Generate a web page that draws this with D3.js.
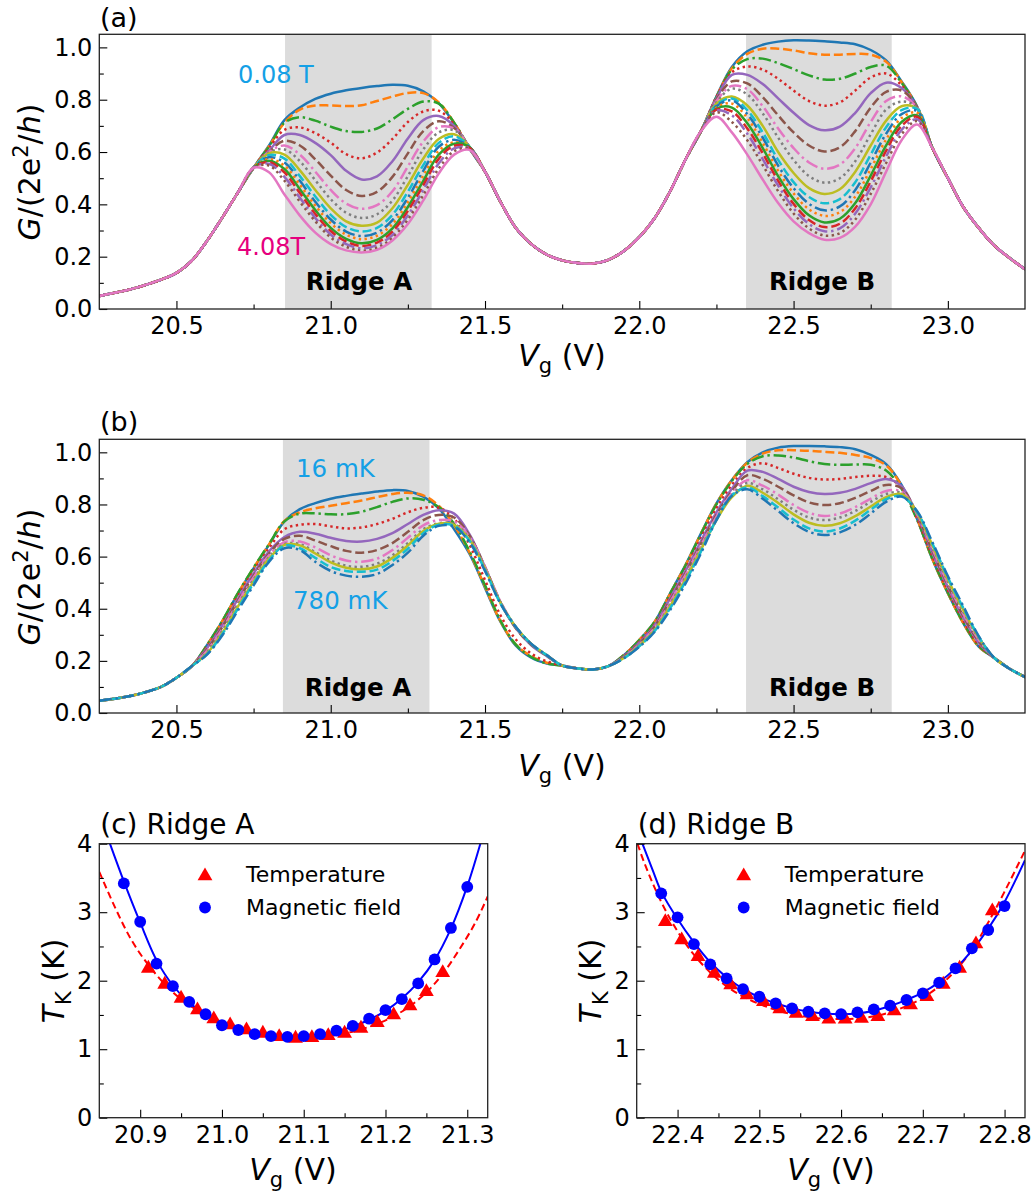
<!DOCTYPE html>
<html><head><meta charset="utf-8">
<script src="https://cdn.jsdelivr.net/npm/d3@7"></script>
<style>body{margin:0;background:#fff}svg{display:block}text{font-family:"DejaVu Sans",sans-serif}</style>
</head><body><svg id="c" width="1036" height="1196"></svg>
<script>
// ---------------- DATA ----------------
// Panel (a): field dependence (0.08 T ... 4.08 T, 17 curves)
const fieldLabels = ["0.08 T","0.33 T","0.58 T","0.83 T","1.08 T","1.33 T","1.58 T","1.83 T","2.08 T","2.33 T","2.58 T","2.83 T","3.08 T","3.33 T","3.58 T","3.83 T","4.08 T"];
const vgTailLeftA = [20.25,20.30,20.35,20.40,20.45,20.50,20.55,20.60,20.65,20.70];
const gTailLeftA  = [0.05,0.062,0.075,0.092,0.112,0.138,0.185,0.262,0.352,0.447];
const vgRidgeA_a = [20.75,20.80,20.85,20.90,20.95,21.00,21.05,21.10,21.15,21.20,21.25,21.30,21.35,21.40,21.45];
const gFieldRidgeA = [
 [0.54,0.625,0.722,0.77,0.803,0.823,0.836,0.845,0.852,0.857,0.853,0.832,0.787,0.71,0.612],
 [0.54,0.622,0.712,0.762,0.778,0.778,0.776,0.779,0.795,0.812,0.826,0.825,0.79,0.712,0.614],
 [0.54,0.62,0.712,0.733,0.72,0.697,0.68,0.677,0.69,0.725,0.765,0.793,0.785,0.712,0.615],
 [0.54,0.615,0.685,0.694,0.672,0.636,0.592,0.576,0.598,0.65,0.715,0.755,0.758,0.705,0.615],
 [0.54,0.605,0.665,0.665,0.635,0.588,0.528,0.495,0.507,0.565,0.652,0.722,0.738,0.70,0.615],
 [0.54,0.60,0.643,0.625,0.572,0.51,0.455,0.432,0.448,0.505,0.595,0.68,0.718,0.692,0.618],
 [0.54,0.60,0.625,0.59,0.525,0.455,0.403,0.383,0.397,0.45,0.545,0.64,0.695,0.69,0.618],
 [0.54,0.598,0.61,0.565,0.492,0.42,0.368,0.348,0.362,0.415,0.508,0.61,0.675,0.683,0.62],
 [0.54,0.595,0.59,0.53,0.455,0.385,0.335,0.318,0.33,0.385,0.475,0.575,0.65,0.668,0.62],
 [0.54,0.588,0.575,0.508,0.43,0.36,0.313,0.296,0.31,0.36,0.448,0.55,0.635,0.66,0.62],
 [0.54,0.58,0.56,0.49,0.41,0.342,0.296,0.279,0.292,0.34,0.425,0.528,0.62,0.647,0.618],
 [0.54,0.573,0.548,0.475,0.395,0.328,0.284,0.267,0.28,0.325,0.408,0.51,0.605,0.637,0.616],
 [0.54,0.567,0.535,0.458,0.378,0.31,0.268,0.251,0.264,0.308,0.39,0.49,0.59,0.632,0.618],
 [0.54,0.562,0.522,0.443,0.363,0.298,0.258,0.241,0.254,0.296,0.375,0.473,0.574,0.624,0.616],
 [0.54,0.555,0.505,0.425,0.348,0.285,0.248,0.232,0.244,0.283,0.358,0.455,0.556,0.614,0.614],
 [0.54,0.548,0.49,0.41,0.335,0.273,0.238,0.223,0.234,0.272,0.342,0.435,0.537,0.603,0.612],
 [0.54,0.523,0.438,0.357,0.292,0.248,0.224,0.216,0.226,0.262,0.325,0.415,0.518,0.59,0.608]
];
const vgMidA = [21.50,21.55,21.60,21.65,21.70,21.75,21.80,21.85,21.90,21.95,22.00,22.05,22.10,22.15,22.20];
const gMidA  = [0.525,0.41,0.31,0.248,0.208,0.186,0.176,0.174,0.188,0.222,0.275,0.348,0.45,0.572,0.68];
const vgRidgeB_a = [22.25,22.30,22.35,22.40,22.45,22.50,22.55,22.60,22.65,22.70,22.75,22.80,22.85,22.90];
const gFieldRidgeB = [
 [0.812,0.925,0.985,1.01,1.022,1.027,1.026,1.023,1.019,1.012,0.99,0.95,0.87,0.775],
 [0.81,0.92,0.975,0.995,0.995,0.988,0.978,0.972,0.972,0.975,0.972,0.945,0.868,0.772],
 [0.81,0.915,0.955,0.957,0.94,0.917,0.893,0.877,0.88,0.90,0.925,0.93,0.865,0.772],
 [0.81,0.905,0.927,0.915,0.88,0.835,0.795,0.777,0.79,0.835,0.885,0.90,0.855,0.77],
 [0.805,0.895,0.895,0.86,0.805,0.75,0.703,0.683,0.697,0.75,0.825,0.865,0.845,0.77],
 [0.80,0.87,0.862,0.81,0.74,0.675,0.625,0.602,0.618,0.68,0.77,0.83,0.835,0.77],
 [0.795,0.853,0.84,0.775,0.69,0.615,0.56,0.536,0.552,0.615,0.715,0.795,0.813,0.77],
 [0.79,0.842,0.82,0.748,0.655,0.57,0.508,0.483,0.50,0.565,0.668,0.762,0.793,0.77],
 [0.785,0.812,0.778,0.70,0.60,0.52,0.462,0.44,0.458,0.525,0.625,0.72,0.775,0.765],
 [0.78,0.805,0.76,0.675,0.57,0.485,0.428,0.404,0.42,0.485,0.59,0.695,0.76,0.765],
 [0.775,0.797,0.745,0.655,0.548,0.462,0.402,0.377,0.392,0.455,0.56,0.67,0.745,0.757],
 [0.77,0.785,0.73,0.635,0.528,0.442,0.381,0.356,0.37,0.43,0.535,0.648,0.73,0.75],
 [0.765,0.77,0.71,0.615,0.508,0.42,0.358,0.331,0.345,0.405,0.51,0.625,0.715,0.74],
 [0.762,0.755,0.69,0.595,0.49,0.402,0.34,0.313,0.326,0.385,0.488,0.605,0.70,0.735],
 [0.758,0.74,0.67,0.573,0.472,0.385,0.325,0.297,0.308,0.365,0.465,0.583,0.685,0.725],
 [0.752,0.715,0.645,0.55,0.45,0.365,0.308,0.281,0.29,0.342,0.44,0.558,0.668,0.718],
 [0.735,0.675,0.59,0.495,0.405,0.335,0.29,0.265,0.272,0.315,0.4,0.525,0.645,0.705]
];
const vgTailRightA = [22.95,23.00,23.05,23.10,23.15,23.20,23.25];
const gTailRightA  = [0.615,0.5,0.39,0.31,0.243,0.195,0.152];

// Panel (b): temperature dependence (16 mK ... 780 mK, 11 curves)
const vgTailLeftB = [20.25,20.30,20.35,20.40,20.45,20.50,20.55];
const gTailLeftB  = [0.047,0.055,0.065,0.08,0.1,0.135,0.18];
const vgRidgeA_b = [20.60,20.65,20.70,20.75,20.80,20.85,20.90,20.95,21.00,21.05,21.10,21.15,21.20,21.25,21.30,21.35,21.40,21.45,21.50,21.55,21.60,21.65,21.70];
const gTempRidgeA = [
 [0.262,0.355,0.46,0.555,0.645,0.735,0.782,0.805,0.822,0.833,0.842,0.85,0.855,0.852,0.83,0.785,0.705,0.61,0.48,0.35,0.258,0.212,0.19],
 [0.262,0.355,0.46,0.556,0.647,0.737,0.77,0.785,0.795,0.805,0.815,0.828,0.84,0.845,0.835,0.795,0.72,0.615,0.485,0.352,0.262,0.218,0.193],
 [0.262,0.356,0.462,0.558,0.648,0.735,0.765,0.766,0.762,0.763,0.772,0.79,0.81,0.823,0.818,0.79,0.725,0.62,0.49,0.355,0.262,0.215,0.19],
 [0.255,0.345,0.45,0.545,0.632,0.705,0.722,0.725,0.716,0.708,0.712,0.725,0.745,0.77,0.787,0.788,0.745,0.645,0.51,0.375,0.282,0.228,0.198],
 [0.25,0.338,0.44,0.535,0.62,0.675,0.695,0.688,0.672,0.66,0.658,0.668,0.69,0.725,0.76,0.778,0.765,0.685,0.56,0.425,0.325,0.26,0.218],
 [0.245,0.332,0.432,0.527,0.612,0.668,0.68,0.662,0.64,0.622,0.615,0.625,0.652,0.695,0.74,0.76,0.75,0.68,0.56,0.425,0.325,0.262,0.22],
 [0.24,0.325,0.425,0.52,0.605,0.655,0.658,0.635,0.605,0.585,0.58,0.592,0.625,0.672,0.72,0.74,0.735,0.675,0.56,0.428,0.33,0.265,0.222],
 [0.235,0.318,0.418,0.512,0.598,0.648,0.648,0.617,0.585,0.565,0.561,0.573,0.605,0.652,0.705,0.728,0.725,0.668,0.555,0.425,0.33,0.265,0.222],
 [0.23,0.31,0.41,0.505,0.592,0.645,0.643,0.612,0.578,0.557,0.551,0.562,0.595,0.643,0.698,0.726,0.722,0.665,0.553,0.423,0.33,0.265,0.222],
 [0.227,0.305,0.402,0.498,0.585,0.642,0.632,0.595,0.56,0.545,0.542,0.55,0.583,0.63,0.69,0.722,0.718,0.66,0.548,0.42,0.33,0.265,0.222],
 [0.225,0.3,0.395,0.49,0.58,0.632,0.625,0.58,0.545,0.527,0.523,0.533,0.568,0.615,0.68,0.718,0.715,0.655,0.545,0.42,0.33,0.265,0.222]
];
const vgMidB = [21.75,21.80,21.85,21.90];
const gMidB  = [0.182,0.171,0.167,0.18];
const vgRidgeB_b = [21.95,22.00,22.05,22.10,22.15,22.20,22.25,22.30,22.35,22.40,22.45,22.50,22.55,22.60,22.65,22.70,22.75,22.80,22.85,22.90,22.95,23.00,23.05,23.10];
const gTempRidgeB = [
 [0.222,0.28,0.35,0.459,0.568,0.689,0.804,0.894,0.962,1.0,1.018,1.024,1.024,1.023,1.02,1.012,0.99,0.955,0.875,0.745,0.59,0.46,0.345,0.255],
 [0.222,0.28,0.35,0.458,0.567,0.688,0.803,0.893,0.96,0.995,1.008,1.008,1.006,1.002,0.998,0.99,0.978,0.95,0.872,0.745,0.59,0.46,0.345,0.255],
 [0.222,0.28,0.35,0.458,0.566,0.687,0.8,0.89,0.955,0.985,0.988,0.98,0.966,0.955,0.952,0.953,0.952,0.93,0.86,0.742,0.592,0.462,0.347,0.257],
 [0.219,0.274,0.342,0.447,0.553,0.672,0.786,0.875,0.94,0.958,0.94,0.918,0.902,0.896,0.898,0.905,0.91,0.905,0.865,0.748,0.6,0.47,0.355,0.262],
 [0.217,0.27,0.337,0.44,0.545,0.66,0.77,0.86,0.93,0.925,0.898,0.868,0.848,0.84,0.845,0.86,0.882,0.898,0.87,0.76,0.615,0.483,0.365,0.27],
 [0.215,0.266,0.332,0.432,0.537,0.65,0.76,0.85,0.912,0.898,0.868,0.835,0.808,0.798,0.805,0.825,0.852,0.875,0.862,0.762,0.622,0.49,0.372,0.276],
 [0.213,0.263,0.327,0.425,0.53,0.643,0.752,0.843,0.893,0.872,0.838,0.798,0.768,0.756,0.765,0.79,0.822,0.852,0.85,0.765,0.63,0.498,0.38,0.282],
 [0.212,0.26,0.322,0.418,0.522,0.635,0.745,0.835,0.882,0.858,0.82,0.78,0.75,0.74,0.75,0.775,0.81,0.84,0.845,0.768,0.637,0.505,0.388,0.287],
 [0.211,0.258,0.318,0.41,0.513,0.627,0.74,0.828,0.872,0.845,0.806,0.762,0.73,0.718,0.728,0.755,0.792,0.828,0.84,0.77,0.643,0.512,0.395,0.29],
 [0.21,0.256,0.315,0.402,0.505,0.62,0.742,0.835,0.865,0.832,0.788,0.742,0.708,0.696,0.708,0.738,0.78,0.82,0.832,0.772,0.65,0.52,0.403,0.293],
 [0.21,0.254,0.312,0.395,0.497,0.613,0.74,0.833,0.858,0.822,0.775,0.728,0.695,0.683,0.693,0.722,0.765,0.81,0.83,0.775,0.655,0.525,0.41,0.295]
];
const vgTailRightB = [23.15,23.20,23.25];
const gTailRightB  = [0.212,0.17,0.138];

// Shaded ridge windows
const ridgeBandsA = [[20.852,21.327],[22.346,22.818]];
const ridgeBandsB = [[20.845,21.32],[22.346,22.818]];

// Panel (c): Ridge A Kondo temperatures
const vgFieldC = [20.88,20.90,20.92,20.94,20.96,20.98,21.00,21.02,21.04,21.06,21.08,21.10,21.12,21.14,21.16,21.18,21.20,21.22,21.24,21.26,21.28,21.30];
const tkFieldC = [3.42,2.86,2.25,1.92,1.69,1.51,1.35,1.28,1.22,1.19,1.18,1.19,1.22,1.27,1.34,1.445,1.57,1.73,1.96,2.31,2.77,3.37];
const vgTempC  = [20.91,20.93,20.95,20.97,20.99,21.01,21.03,21.05,21.07,21.09,21.11,21.13,21.15,21.17,21.19,21.21,21.23,21.25,21.27];
const tkTempC  = [2.18,1.946,1.742,1.572,1.44,1.353,1.28,1.231,1.182,1.158,1.168,1.197,1.231,1.304,1.387,1.499,1.63,1.839,2.117];
const vgFitFieldC = [20.863,20.88,20.90,20.92,20.94,20.96,20.98,21.00,21.02,21.04,21.06,21.08,21.10,21.12,21.14,21.16,21.18,21.20,21.22,21.24,21.26,21.28,21.30,21.316];
const tkFitFieldC = [4.0,3.45,2.85,2.3,1.93,1.68,1.5,1.37,1.28,1.22,1.19,1.18,1.19,1.215,1.26,1.33,1.43,1.56,1.74,1.98,2.3,2.76,3.38,4.0];
const vgFitTempC = [20.85,20.87,20.89,20.91,20.93,20.95,20.97,20.99,21.01,21.03,21.05,21.07,21.09,21.11,21.13,21.15,21.17,21.19,21.21,21.23,21.25,21.27,21.29,21.31,21.325];
const tkFitTempC = [3.59,3.05,2.58,2.23,1.95,1.73,1.57,1.44,1.34,1.27,1.22,1.185,1.17,1.17,1.19,1.23,1.29,1.37,1.48,1.63,1.83,2.1,2.45,2.85,3.23];

// Panel (d): Ridge B Kondo temperatures
const vgFieldD = [22.38,22.40,22.42,22.44,22.46,22.48,22.50,22.52,22.54,22.56,22.58,22.60,22.62,22.64,22.66,22.68,22.70,22.72,22.74,22.76,22.78,22.80];
const tkFieldD = [3.275,2.925,2.535,2.238,2.034,1.878,1.766,1.669,1.596,1.547,1.523,1.513,1.538,1.582,1.635,1.718,1.815,1.971,2.18,2.472,2.74,3.09];
const vgTempD  = [22.385,22.405,22.425,22.445,22.465,22.485,22.505,22.525,22.545,22.565,22.585,22.605,22.625,22.645,22.665,22.685,22.705,22.725,22.745,22.765,22.785];
const tkTempD  = [2.86,2.594,2.35,2.107,1.937,1.791,1.693,1.586,1.523,1.474,1.436,1.436,1.45,1.474,1.557,1.645,1.766,1.946,2.18,2.535,3.017];
const vgFitFieldD = [22.357,22.37,22.38,22.40,22.42,22.44,22.46,22.48,22.50,22.52,22.54,22.56,22.58,22.60,22.62,22.64,22.66,22.68,22.70,22.72,22.74,22.76,22.78,22.80,22.825];
const tkFitFieldD = [4.0,3.6,3.3,2.9,2.56,2.27,2.05,1.88,1.76,1.67,1.6,1.55,1.52,1.51,1.52,1.56,1.63,1.72,1.83,1.98,2.18,2.44,2.76,3.15,3.76];
const vgFitTempD = [22.351,22.36,22.38,22.40,22.42,22.44,22.46,22.48,22.50,22.52,22.54,22.56,22.58,22.60,22.62,22.64,22.66,22.68,22.70,22.72,22.74,22.76,22.78,22.80,22.825];
const tkFitTempD = [4.0,3.7,3.15,2.72,2.38,2.12,1.92,1.77,1.66,1.575,1.51,1.47,1.445,1.44,1.45,1.48,1.54,1.63,1.75,1.92,2.15,2.45,2.85,3.3,3.9];

// Tick values
const xMajorAB = [20.5,21.0,21.5,22.0,22.5,23.0];
const xMinorAB = [20.75,21.25,21.75,22.25,22.75];
const yMajorAB = [0,0.2,0.4,0.6,0.8,1.0];
const yMinorAB = [0.1,0.3,0.5,0.7,0.9];
const xMajorC = [20.9,21.0,21.1,21.2,21.3];
const xMinorC = [20.95,21.05,21.15,21.25];
const xMajorD = [22.4,22.5,22.6,22.7,22.8];
const xMinorD = [22.45,22.55,22.65,22.75];
const yMajorCD = [0,1,2,3,4];
const yMinorCD = [0.5,1.5,2.5,3.5];

// ---------------- DRAWING ----------------
const svg = d3.select("#c");
const tab10 = ["#1f77b4","#ff7f0e","#2ca02c","#d62728","#9467bd","#8c564b","#e377c2","#7f7f7f","#bcbd22","#17becf"];
const dashStyles = [null,"9,3.8","12.5,3.8,2.4,3.8","2.4,3.4"];
const defs = svg.append("defs");

function makePanel(name, l, r, t, b, xd, yd){
  const x = d3.scaleLinear().domain(xd).range([l, r]);
  const y = d3.scaleLinear().domain(yd).range([b, t]);
  defs.append("clipPath").attr("id","clip"+name).append("rect")
    .attr("x",l).attr("y",t).attr("width",r-l).attr("height",b-t);
  const g = svg.append("g");
  const bg = g.append("g");
  const plot = g.append("g").attr("clip-path",`url(#clip${name})`);
  return {x,y,g,bg,plot,l,r,t,b};
}
function styleAxis(s){
  s.select(".domain").remove();
  s.selectAll("line").attr("stroke","#000").attr("stroke-width",1.1);
  s.selectAll("text").attr("font-size",24).attr("font-family","DejaVu Sans").attr("fill","#000");
  s.attr("font-size",null).attr("font-family",null);
}
function axes(p, xMaj, xMin, yMaj, yMin, xf, yf){
  p.g.append("g").attr("transform",`translate(0,${p.b})`)
    .call(d3.axisBottom(p.x).tickValues(xMin).tickSize(-4.5).tickFormat("")).call(styleAxis);
  p.g.append("g").attr("transform",`translate(0,${p.b})`)
    .call(d3.axisBottom(p.x).tickValues(xMaj).tickSize(-8).tickPadding(8).tickFormat(xf)).call(styleAxis);
  p.g.append("g").attr("transform",`translate(${p.l},0)`)
    .call(d3.axisLeft(p.y).tickValues(yMin).tickSize(-4.5).tickFormat("")).call(styleAxis);
  p.g.append("g").attr("transform",`translate(${p.l},0)`)
    .call(d3.axisLeft(p.y).tickValues(yMaj).tickSize(-8).tickPadding(7).tickFormat(yf)).call(styleAxis);
  p.g.append("rect").attr("x",p.l).attr("y",p.t).attr("width",p.r-p.l).attr("height",p.b-p.t)
    .attr("fill","none").attr("stroke","#222").attr("stroke-width",1.3);
}
function joinSegments(segs){
  const pts=[];
  segs.forEach(([xs,ys])=>xs.forEach((v,i)=>pts.push([v,ys[i]])));
  return pts;
}
function drawFamily(p, curves){
  const line = d3.line().x(d=>p.x(d[0])).y(d=>p.y(d[1])).curve(d3.curveCatmullRom.alpha(0.5));
  curves.forEach((pts,k)=>{
    const path = p.plot.append("path").datum(pts).attr("d",line)
      .attr("fill","none").attr("stroke",tab10[k%10]).attr("stroke-width",2.5)
      .attr("stroke-linejoin","round");
    const ds = dashStyles[k%4];
    if(ds) path.attr("stroke-dasharray",ds);
  });
}
function bands(p, list){
  list.forEach(([a,b2])=>p.bg.append("rect").attr("x",p.x(a)).attr("y",p.t)
    .attr("width",p.x(b2)-p.x(a)).attr("height",p.b-p.t).attr("fill","#dcdcdc"));
}
function txt(parent, x, y, str, opt={}){
  const t = parent.append("text").attr("x",x).attr("y",y).text(str)
    .attr("font-size",opt.size||24).attr("fill",opt.fill||"#000");
  if(opt.family) t.attr("font-family",opt.family);
  if(opt.weight) t.attr("font-weight",opt.weight);
  if(opt.anchor) t.attr("text-anchor",opt.anchor);
  return t;
}
function gLabel(cx, cy){
  const t = svg.append("text").attr("transform",`translate(${cx},${cy}) rotate(-90)`)
    .attr("text-anchor","middle").attr("font-size",30);
  t.append("tspan").attr("font-style","italic").text("G");
  t.append("tspan").text("/(2e");
  t.append("tspan").attr("font-size",21).attr("dy",-12).text("2");
  t.append("tspan").attr("dy",12).text("/");
  t.append("tspan").attr("font-style","italic").text("h");
  t.append("tspan").text(")");
}
function vLabel(cx, y){
  const t = svg.append("text").attr("x",cx).attr("y",y).attr("text-anchor","middle").attr("font-size",30);
  t.append("tspan").attr("font-style","italic").text("V");
  t.append("tspan").attr("font-size",21).attr("dy",7).text("g");
  t.append("tspan").attr("dy",-7).text(" (V)");
}
function tkLabel(cx, cy){
  const t = svg.append("text").attr("transform",`translate(${cx},${cy}) rotate(-90)`)
    .attr("text-anchor","middle").attr("font-size",30);
  t.append("tspan").attr("font-style","italic").text("T");
  t.append("tspan").attr("font-size",21).attr("dy",7).text("K");
  t.append("tspan").attr("dy",-7).text(" (K)");
}

const f1 = d3.format(".1f");

// ---- Panel (a)
const pa = makePanel("a", 99.3, 1025, 34.3, 309, [20.25,23.25], [0,1.05]);
bands(pa, ridgeBandsA);
const curvesA = gFieldRidgeA.map((ra,k)=>joinSegments([
  [vgTailLeftA,gTailLeftA],[vgRidgeA_a,ra],[vgMidA,gMidA],[vgRidgeB_a,gFieldRidgeB[k]],[vgTailRightA,gTailRightA]]));
drawFamily(pa, curvesA);
axes(pa, xMajorAB, xMinorAB, yMajorAB, yMinorAB, f1, f1);
txt(pa.g, 359, 290, "Ridge A", {size:24.5, weight:"bold", anchor:"middle"});
txt(pa.g, 822, 290, "Ridge B", {size:24.5, weight:"bold", anchor:"middle"});
txt(pa.g, 238, 83, fieldLabels[0], {size:24, fill:"#14a0e6", family:"Liberation Sans"});
txt(pa.g, 237, 255, "4.08T", {size:24, fill:"#e6007e", family:"Liberation Sans"});
txt(svg, 100, 27, "(a)", {size:27});
gLabel(40, 172);
vLabel(562, 366);

// ---- Panel (b)
const pb = makePanel("b", 99.3, 1025, 439.3, 713, [20.25,23.25], [0,1.05]);
bands(pb, ridgeBandsB);
const curvesB = gTempRidgeA.map((ra,k)=>joinSegments([
  [vgTailLeftB,gTailLeftB],[vgRidgeA_b,ra],[vgMidB,gMidB],[vgRidgeB_b,gTempRidgeB[k]],[vgTailRightB,gTailRightB]]));
drawFamily(pb, curvesB);
axes(pb, xMajorAB, xMinorAB, yMajorAB, yMinorAB, f1, f1);
txt(pb.g, 358, 696, "Ridge A", {size:24.5, weight:"bold", anchor:"middle"});
txt(pb.g, 822, 696, "Ridge B", {size:24.5, weight:"bold", anchor:"middle"});
txt(pb.g, 296, 477, "16 mK", {size:24.5, fill:"#14a0e6", family:"Liberation Sans"});
txt(pb.g, 293, 609, "780 mK", {size:24.5, fill:"#14a0e6", family:"Liberation Sans"});
txt(svg, 100, 431, "(b)", {size:27});
gLabel(40, 577);
vLabel(562, 776);

// ---- Panels (c), (d)
function tkPanel(name, l, r, xd, fitF, fitT, ptsF, ptsT, xMaj, xMin, title, legX){
  const p = makePanel(name, l, r, 843.7, 1117.7, xd, [0,4]);
  const line = d3.line().x(d=>p.x(d[0])).y(d=>p.y(d[1])).curve(d3.curveCatmullRom.alpha(0.5));
  p.plot.append("path").datum(fitT).attr("d",line).attr("fill","none")
    .attr("stroke","#ff0000").attr("stroke-width",2).attr("stroke-dasharray","7,4");
  p.plot.append("path").datum(fitF).attr("d",line).attr("fill","none")
    .attr("stroke","#0000ff").attr("stroke-width",2);
  const tri = d3.symbol().type(d3.symbolTriangle).size(95);
  p.plot.selectAll(null).data(ptsT).join("path").attr("d",tri)
    .attr("transform",d=>`translate(${p.x(d[0])},${p.y(d[1])})`).attr("fill","#ff0000");
  p.plot.selectAll(null).data(ptsF).join("circle")
    .attr("cx",d=>p.x(d[0])).attr("cy",d=>p.y(d[1])).attr("r",5.9).attr("fill","#0000ff");
  axes(p, xMaj, xMin, yMajorCD, yMinorCD, f1, d3.format("d"));
  // legend
  p.g.append("path").attr("d",tri).attr("transform",`translate(${legX},876)`).attr("fill","#ff0000");
  p.g.append("circle").attr("cx",legX).attr("cy",907.5).attr("r",5.9).attr("fill","#0000ff");
  txt(p.g, legX+41, 881.5, "Temperature", {size:22});
  txt(p.g, legX+41, 914.5, "Magnetic field", {size:22});
  txt(svg, l+1, 834, title, {size:28});
  return p;
}
const zip = (a,b)=>a.map((v,i)=>[v,b[i]]);
tkPanel("c", 99.3, 487.7, [20.85,21.325], zip(vgFitFieldC,tkFitFieldC), zip(vgFitTempC,tkFitTempC),
  zip(vgFieldC,tkFieldC), zip(vgTempC,tkTempC), xMajorC, xMinorC, "(c) Ridge A", 205);
tkPanel("d", 636.7, 1025, [22.35,22.825], zip(vgFitFieldD,tkFitFieldD), zip(vgFitTempD,tkFitTempD),
  zip(vgFieldD,tkFieldD), zip(vgTempD,tkTempD), xMajorD, xMinorD, "(d) Ridge B", 743.7);
tkLabel(64, 981);
tkLabel(601, 981);
vLabel(293, 1180);
vLabel(831, 1180);
</script></body></html>
